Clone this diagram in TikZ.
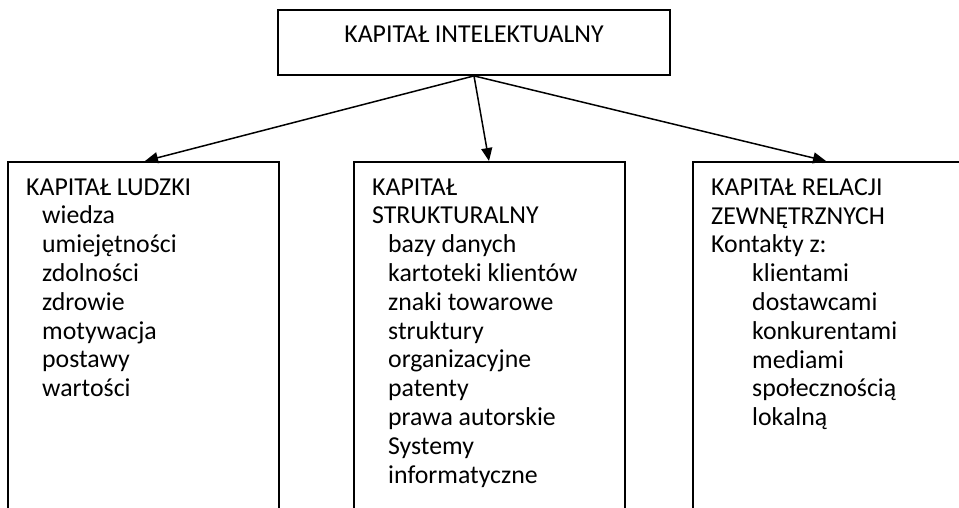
\documentclass[tikz,border=0pt]{standalone}
\usepackage{fontspec}
\setmainfont{Carlito}
\usetikzlibrary{arrows.meta}
\begin{document}
\begin{tikzpicture}[x=1pt,y=-1pt,
  boxstyle/.style={draw=black, line width=1.8pt, fill=none},
  txt/.style={anchor=north west, inner sep=0pt, align=left, font=\fontsize{25.8}{28.8}\selectfont},
  arr/.style={line width=1.5pt, -{Triangle[length=13pt,width=11pt]}}]
\useasboundingbox (0,0) rectangle (959,508);
\clip (0,0) rectangle (959,508);
% boxes
\node[boxstyle, minimum width=392pt, minimum height=65pt, inner sep=0pt] (top) at (474,42.5) {};
\node[boxstyle, minimum width=271pt, minimum height=380pt, inner sep=0pt, anchor=north west] (left) at (7,161) {};
\node[boxstyle, minimum width=271pt, minimum height=380pt, inner sep=0pt, anchor=north west] (mid) at (353,161) {};
\node[boxstyle, minimum width=300pt, minimum height=380pt, inner sep=0pt, anchor=north west] (right) at (692,161) {};
% texts
\node[txt, anchor=base] (toptxt) at (474,43) {KAPITAŁ INTELEKTUALNY};
\node[txt] (lefttxt) at (26,178.4) {KAPITAŁ LUDZKI\\
\hspace*{16pt}wiedza\\
\hspace*{16pt}umiejętności\\
\hspace*{16pt}zdolności\\
\hspace*{16pt}zdrowie\\
\hspace*{16pt}motywacja\\
\hspace*{16pt}postawy\\
\hspace*{16pt}wartości};
\node[txt] (midtxt) at (372,178.4) {KAPITAŁ\\
STRUKTURALNY\\
\hspace*{16pt}bazy danych\\
\hspace*{16pt}kartoteki klientów\\
\hspace*{16pt}znaki towarowe\\
\hspace*{16pt}struktury\\
\hspace*{16pt}organizacyjne\\
\hspace*{16pt}patenty\\
\hspace*{16pt}prawa autorskie\\
\hspace*{16pt}Systemy\\
\hspace*{16pt}informatyczne};
\node[txt] (righttxt) at (711,178.4) {KAPITAŁ RELACJI\\
ZEWNĘTRZNYCH\\
Kontakty z:\\
\hspace*{41pt}klientami\\
\hspace*{41pt}dostawcami\\
\hspace*{41pt}konkurentami\\
\hspace*{41pt}mediami\\
\hspace*{41pt}społecznością\\
\hspace*{41pt}lokalną};
% connectors
\coordinate (src) at (top.south);
\draw[arr] (src) -- (left.north west -| 145,0);
\draw[arr] (src) -- (mid.north west -| 489,0);
\draw[arr] (src) -- (right.north west -| 826,0);
\end{tikzpicture}
\end{document}
